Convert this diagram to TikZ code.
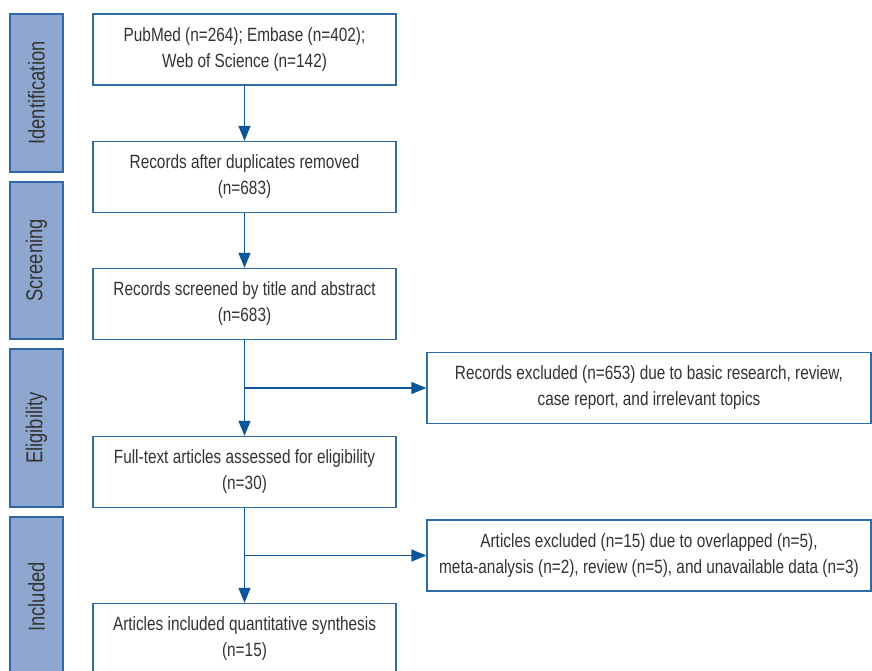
\documentclass[tikz,border=0pt]{standalone}
\usepackage{fontspec}
\setmainfont{Liberation Sans}[FakeStretch=0.8]
\usetikzlibrary{arrows.meta}
\definecolor{sidefill}{HTML}{8FA7CF}
\definecolor{sideline}{HTML}{2F68A8}
\definecolor{boxline}{HTML}{2E6CA6}
\definecolor{arrcol}{HTML}{0B559B}
\definecolor{txt}{HTML}{333333}
\begin{document}
\begin{tikzpicture}[x=1pt,y=-1pt,
  side/.style={draw=sideline,fill=sidefill,line width=1.3pt,minimum width=53pt,inner sep=0pt},
  sidetext/.style={text=txt,font=\fontsize{23}{25}\selectfont,rotate=90},
  box/.style={draw=boxline,line width=1.3pt,fill=white,text=txt,align=center,
    font=\fontsize{19.2}{26}\selectfont,inner sep=0pt,minimum height=71pt},
  lbox/.style={box,minimum width=303pt},
  rbox/.style={box,minimum width=444pt},
  arr/.style={draw=arrcol,line width=1.3pt,-{Triangle[width=12pt,length=15pt]}}]
\useasboundingbox (0,0) rectangle (872,670);
% side bars
\node[side,minimum height=158pt] (s1) at (36.5,93) {};
\node[side,minimum height=157pt] (s2) at (36.5,260.5) {};
\node[side,minimum height=158pt] (s3) at (36.5,428) {};
\node[side,minimum height=160pt] (s4) at (36.5,597) {};
\node[sidetext] (t1) at (s1.center) {Identification};
\node[sidetext] (t2) at (s2.center) {Screening};
\node[sidetext] (t3) at (s3.center) {Eligibility};
\node[sidetext] (t4) at (s4.center) {Included};
% main boxes
\node[lbox] (b1) at (244.5,49.5) {PubMed (n=264); Embase (n=402);\\Web of Science (n=142)};
\node[lbox] (b2) at (244.5,177) {Records after duplicates removed\\(n=683)};
\node[lbox] (b3) at (244.5,304) {Records screened by title and abstract\\(n=683)};
\node[lbox] (b4) at (244.5,472) {Full-text articles assessed for eligibility\\(n=30)};
\node[lbox] (b5) at (244.5,639) {Articles included quantitative synthesis\\(n=15)};
\node[rbox] (r1) at (649,388) {Records excluded (n=653) due to basic research, review,\\case report, and irrelevant topics};
\node[rbox] (r2) at (649,555.5) {Articles excluded (n=15) due to overlapped (n=5),\\meta-analysis (n=2), review (n=5), and unavailable data (n=3)};
% arrows
\draw[arr] (b1) -- (b2);
\draw[arr] (b2) -- (b3);
\draw[arr] (b3) -- (b4);
\draw[arr] (b4) -- (b5);
\draw[arr] (b3.south |- r1.west) -- (r1.west);
\draw[arr] (b4.south |- r2.west) -- (r2.west);
\end{tikzpicture}
\end{document}
